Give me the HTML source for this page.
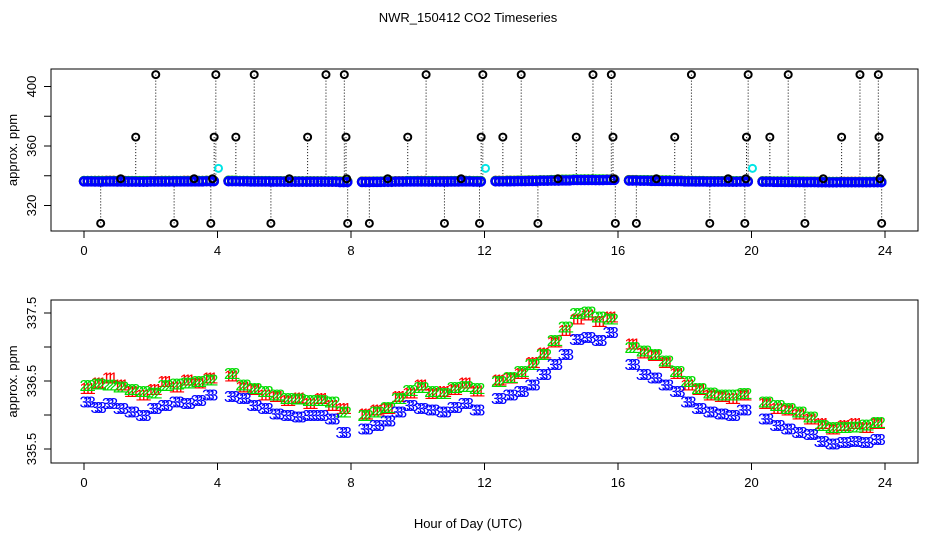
<!DOCTYPE html>
<html><head><meta charset="utf-8"><style>
html,body{margin:0;padding:0;background:#fff}
svg{display:block;font-family:"Liberation Sans",sans-serif}
</style></head><body>
<svg id="c" width="936" height="540" viewBox="0 0 936 540">
<text x="468" y="22" text-anchor="middle" font-size="13">NWR_150412  CO2 Timeseries</text>
<text x="468" y="528" text-anchor="middle" font-size="13">Hour of Day (UTC)</text>
<g id="topPanel"></g>
<g id="botPanel"></g>
</svg>
<script>
const hours = [0,0.33,0.67,1,1.33,1.67,2,2.33,2.67,3,3.33,3.67,4,4.33,4.67,5,5.33,5.67,6,6.33,6.67,7,7.33,7.67,8,8.33,8.67,9,9.33,9.67,10,10.33,10.67,11,11.33,11.67,12,12.33,12.67,13,13.33,13.67,14,14.33,14.67,15,15.33,15.67,16,16.33,16.67,17,17.33,17.67,18,18.33,18.67,19,19.33,19.67,20,20.33,20.67,21,21.33,21.67,22,22.33,22.67,23,23.33,23.67];
const series2 = [336.44,336.46,336.45,336.42,336.38,336.35,336.33,336.44,336.46,336.48,336.50,336.52,null,336.62,336.45,336.40,336.35,336.30,336.25,336.24,336.22,336.22,336.20,336.05,null,336.00,336.05,336.12,336.25,336.37,336.41,336.35,336.32,336.41,336.43,336.40,null,336.50,336.56,336.65,336.75,336.90,337.10,337.30,337.50,337.52,337.45,337.42,null,337.00,336.95,336.90,336.80,336.65,336.50,336.40,336.33,336.30,336.30,336.32,null,336.20,336.15,336.10,336.05,335.98,335.85,335.82,335.82,335.83,335.86,335.90];
const series1 = [336.40,336.48,336.55,336.45,336.35,336.30,336.38,336.50,336.42,336.52,336.48,336.55,null,336.58,336.42,336.38,336.30,336.28,336.22,336.26,336.18,336.25,336.15,336.10,null,336.02,336.08,336.10,336.28,336.33,336.45,336.32,336.35,336.38,336.48,336.36,null,336.52,336.55,336.62,336.78,336.92,337.08,337.25,337.42,337.48,337.38,337.45,null,337.05,336.92,336.88,336.78,336.62,336.45,336.38,336.30,336.28,336.25,336.30,null,336.18,336.10,336.08,336.02,335.95,335.88,335.80,335.85,335.88,335.82,335.88];
const series3 = [336.20,336.12,336.18,336.10,336.05,336.00,336.10,336.15,336.20,336.18,336.22,336.30,null,336.28,336.25,336.15,336.10,336.02,336.00,335.98,336.00,336.00,335.95,335.75,null,335.80,335.85,335.92,336.05,336.15,336.10,336.08,336.05,336.12,336.18,336.08,null,336.25,336.30,336.35,336.45,336.60,336.75,336.90,337.12,337.15,337.10,337.22,null,336.75,336.60,336.55,336.45,336.35,336.20,336.10,336.05,336.02,336.00,336.08,null,335.95,335.85,335.80,335.75,335.72,335.62,335.58,335.60,335.62,335.60,335.65];
const outT = [0.5,1.1,1.55,2.15,2.7,3.3,3.8,3.85,3.9,3.95,4.55,5.1,5.6,6.15,6.7,7.25,7.8,7.85,7.87,7.9,8.55,9.1,9.7,10.25,10.8,11.3,11.85,11.9,11.95,12.55,13.1,13.6,14.2,14.75,15.25,15.8,15.85,15.87,15.92,16.55,17.15,17.7,18.2,18.75,19.3,19.8,19.83,19.85,19.9,20.55,21.1,21.6,22.15,22.7,23.25,23.8,23.82,23.85,23.9];
const outV = [308,338,366,408,308,338,308,338,366,408,366,408,308,338,366,408,408,366,338,308,308,338,366,408,308,338,308,366,408,366,408,308,338,366,408,408,366,338,308,308,338,366,408,308,338,308,338,366,408,366,408,308,338,366,408,408,366,338,308];
const cyanT = [4.0,12.0,20.0];
const cyanV = [345,345,345];
const xTicks = [0,4,8,12,16,20,24];
const topTicks = [320,340,360,380,400];
const topLabels = ["320","","360","","400"];
const botTicks = [335.5,336,336.5,337,337.5];
const botLabels = ["335.5","","336.5","","337.5"];

const NS="http://www.w3.org/2000/svg";
function mk(p,tag,at){const e=document.createElementNS(NS,tag);for(const k in at)e.setAttribute(k,at[k]);p.appendChild(e);return e;}
const xS = h => 84 + h*(885-84)/24;
const yTop = v => 146 - (v-360)*59.5/40;
const yBot = v => 381 - (v-336.5)*68;

function frame(g,y0,y1,ticks,labels,ys,nm){
  let e=mk(g,'rect',{x:51,y:y0,width:867,height:y1-y0,fill:'none',stroke:'#000','stroke-width':1});
  
  
  xTicks.forEach(t=>{
    let l=mk(g,'line',{x1:xS(t),x2:xS(t),y1:y1,y2:y1+7,stroke:'#000'});
    
    
    let tx=mk(g,'text',{x:xS(t),y:y1+24,'text-anchor':'middle','font-size':13});
    tx.textContent=t;
    
    
  });
  ticks.forEach((t,i)=>{
    const y=ys(t);
    let l=mk(g,'line',{x1:44,x2:51,y1:y,y2:y,stroke:'#000'});
    
    
    if(labels[i]){
      let tx=mk(g,'text',{x:36,y:y,'text-anchor':'middle','font-size':13,transform:`rotate(-90 36 ${y})`});
      tx.textContent=labels[i];
      
      
    }
  });
  const cy=(y0+y1)/2;
  let yt=mk(g,'text',{x:17,y:cy,'text-anchor':'middle','font-size':13,transform:`rotate(-90 17 ${cy})`});
  yt.textContent='approx. ppm';
  
  
}
const topG=document.getElementById('topPanel'), botG=document.getElementById('botPanel');
frame(topG,69,231,topTicks,topLabels,yTop,'top');
frame(botG,300,463,botTicks,botLabels,yBot,'bottom');

outT.forEach((t,i)=>{
  let l=mk(topG,'line',{x1:xS(t),x2:xS(t),y1:yTop(outV[i]),y2:yTop(336),stroke:'#000','stroke-dasharray':'1,2'});
  
  
});
[[series1,'#ff0000','series-1'],[series2,'#00dd00','series-2'],[series3,'#0000ff','series-3']].forEach(([arr,c,n])=>{
  arr.forEach((v,i)=>{
    if(v===null)return;
    for(const d of [0,0.11,0.22]){
      if(hours[i]+d>23.9)continue;
      let p=mk(topG,'circle',{cx:xS(hours[i]+d),cy:yTop(v),r:4,fill:'none',stroke:c,'stroke-width':2.5});
      
      
    }
  });
});
outT.forEach((t,i)=>{
  let p=mk(topG,'circle',{cx:xS(t),cy:yTop(outV[i]),r:3.5,fill:'none',stroke:'#000','stroke-width':2});
  
  
});
cyanT.forEach((t,i)=>{
  let p=mk(topG,'circle',{cx:xS(t)+1,cy:yTop(cyanV[i]),r:3.5,fill:'none',stroke:'#00e5e5','stroke-width':2});
  
  
});

[[series1,'#ff0000','1','series-1'],[series2,'#00dd00','2','series-2'],[series3,'#0000ff','3','series-3']].forEach(([arr,c,g,n])=>{
  arr.forEach((v,i)=>{
    if(v===null)return;
    for(const d of [0,0.11,0.22]){
      if(hours[i]+d>23.9)continue;
      let t=mk(botG,'text',{x:xS(hours[i]+d),y:yBot(v)+6,'text-anchor':'middle','font-size':16,fill:c});
      t.textContent=g;
      
      
    }
  });
});
</script>
</body></html>
